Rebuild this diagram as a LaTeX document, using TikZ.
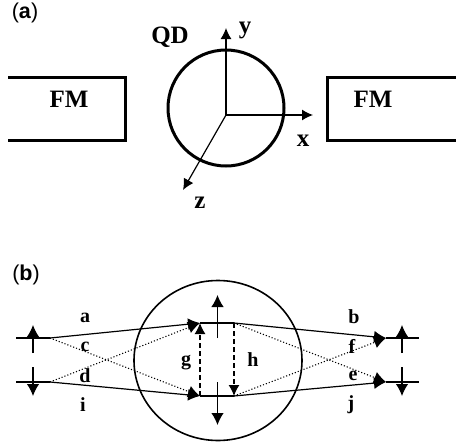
\documentclass[tikz,border=0pt]{standalone}
\usepackage{fontspec}
\setmainfont{Liberation Serif}
\newfontfamily\panelfont{Liberation Sans}
\usetikzlibrary{arrows.meta, shapes.geometric}

\begin{document}
\begin{tikzpicture}[
    x=1pt, y=-1pt,
    panel/.style={font=\panelfont\fontsize{21.5}{24}\selectfont},
    biglabel/.style={font=\fontsize{25}{27}\selectfont\bfseries, inner sep=0pt},
    smalllabel/.style={font=\fontsize{20}{22}\selectfont\bfseries, inner sep=0pt},
    fmlead/.style={line width=3pt},
    axis/.style={line width=1.2pt, -{Latex[length=11pt, width=11pt]}},
    level/.style={line width=2.2pt},
    spin/.style={line width=1.2pt, -{Latex[length=12pt, width=12.5pt]}},
    direct/.style={line width=1.2pt, -{Latex[length=12pt, width=12pt]}},
    cross/.style={line width=1.1pt, dotted, -{Latex[length=12pt, width=12pt]}},
    relax/.style={line width=1.3pt, dash pattern=on 5pt off 3pt, -{Latex[length=11pt, width=11pt]}}
]
\useasboundingbox (0,0) rectangle (456,445);

% panel a
\node[panel] (pa) at (25,13) {(\textbf{a})};
\node[draw, circle, line width=3pt, minimum size=116pt, inner sep=0pt] (qd) at (226,108) {};
\coordinate (o) at (226,115);
\coordinate (ay) at (226,28);
\coordinate (ax) at (313,115);
\coordinate (az) at (183,190);
\draw[axis] (o) -- (ay);
\draw[axis] (o) -- (ax);
\draw[axis] (o) -- (az);
\coordinate (l1) at (8,77);
\coordinate (l2) at (125,77);
\coordinate (l3) at (125,140);
\coordinate (l4) at (8,140);
\coordinate (r1) at (456,77);
\coordinate (r2) at (327,77);
\coordinate (r3) at (327,140);
\coordinate (r4) at (456,140);
\draw[fmlead] (l1) -- (l2) -- (l3) -- (l4);
\draw[fmlead] (r1) -- (r2) -- (r3) -- (r4);
\node[biglabel] (fml) at (69,99) {FM};
\node[biglabel] (fmr) at (373,99) {FM};
\node[biglabel] (qdl) at (170,37) {QD};
\node[biglabel] (yl) at (245,30) {y};
\node[biglabel] (xl) at (303,141) {x};
\node[biglabel] (zl) at (200,203) {z};

% panel b
\node[panel] (pb) at (26,275) {(\textbf{b})};
\node[draw, ellipse, line width=1.6pt, minimum width=168pt, minimum height=160pt, inner sep=0pt] (dot) at (218,360.5) {};

% leads and levels
\coordinate (lu0) at (16,338);
\coordinate (lu) at (50,338);
\coordinate (ld0) at (16,382);
\coordinate (ld) at (50,382);
\coordinate (qu0) at (200,323);
\coordinate (qu) at (234,323);
\coordinate (qd0) at (200,396);
\coordinate (qd1) at (234,396);
\coordinate (ru) at (386,338);
\coordinate (ru1) at (419,338);
\coordinate (rd) at (386,382);
\coordinate (rd1) at (419,382);
\draw[level] (lu0) -- (lu);
\draw[level] (ld0) -- (ld);
\draw[level] (qu0) -- (qu);
\draw[level] (qd0) -- (qd1);
\draw[level] (ru) -- (ru1);
\draw[level] (rd) -- (rd1);

% spins
\draw[spin] (33,353) coordinate (s1) -- (33,325) coordinate (s2);
\draw[spin] (33,367) coordinate (s3) -- (33,396) coordinate (s4);
\draw[spin] (217.5,338) coordinate (s5) -- (217.5,295) coordinate (s6);
\draw[spin] (217.5,382) coordinate (s7) -- (217.5,425) coordinate (s8);
\draw[spin] (402,353) coordinate (s9) -- (402,325) coordinate (s10);
\draw[spin] (402,367) coordinate (s11) -- (402,396) coordinate (s12);

% transitions
\draw[direct] (lu) -- (qu0);
\draw[direct] (ld) -- (qd0);
\draw[cross] (lu) -- (qd0);
\draw[cross] (ld) -- (qu0);
\draw[relax] (qd0) -- (qu0);
\draw[relax] (qu) -- (qd1);
\draw[direct] (qu) -- (ru);
\draw[direct] (qd1) -- (rd);
\draw[cross] (qu) -- (rd);
\draw[cross] (qd1) -- (ru);

\node[smalllabel] (ta) at (85,318) {a};
\node[smalllabel] (tc) at (85,347) {c};
\node[smalllabel] (td) at (85,376) {d};
\node[smalllabel] (ti) at (83,405) {i};
\node[smalllabel] (tg) at (186,363) {g};
\node[smalllabel] (th) at (253,360) {h};
\node[smalllabel] (tb) at (354,317) {b};
\node[smalllabel] (tf) at (352,346) {f};
\node[smalllabel] (te) at (353,376) {e};
\node[smalllabel] (tj) at (351,405) {j};
\end{tikzpicture}
\end{document}
